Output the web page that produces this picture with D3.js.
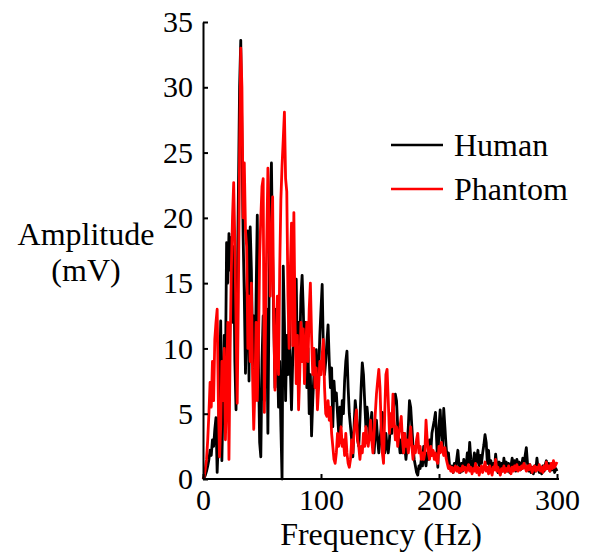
<!DOCTYPE html>
<html><head><meta charset="utf-8">
<script src="https://cdn.jsdelivr.net/npm/d3@7"></script>
<style>
body{margin:0;background:#fff;}
text{font-family:"Liberation Serif","Times New Roman",serif;fill:#000;}
</style></head>
<body><svg id="c" width="590" height="555"></svg>
<script>
// Frequency axis values (Hz), 1 Hz resolution
const frequency = d3.range(0, 301, 1);
const human = [
0,0.1,0.3,0.6,1.0,1.5,2.2,1.8,3.0,2.5,
3.8,4.7,0.5,3.0,7.5,12.1,1.4,6.0,11.0,8.0,
18.1,15.0,18.8,16.0,18.5,12.0,17.8,9.0,5.3,14.0,
22.0,30.0,33.6,26.0,18.6,14.0,8.1,12.0,19.0,7.5,
19.3,16.0,10.0,12.5,6.0,14.0,20.2,9.0,2.8,1.7,
9.0,12.5,6.0,10.0,13.0,3.5,14.0,21.0,24.2,17.0,
12.0,7.0,13.0,10.0,5.5,9.0,4.0,0,16.3,12.0,
6.0,11.0,8.0,12.5,8.5,5.3,9.0,11.0,13.0,15.3,
9.0,12.0,10.0,14.0,15.6,13.0,9.0,12.0,7.0,10.0,
5.0,8.0,3.3,6.0,8.0,7.0,9.9,6.5,8.0,11.0,
13.0,14.9,10.0,8.0,9.0,10.5,11.8,9.0,7.0,8.5,
4.0,7.5,6.0,6.6,5.0,3.5,5.5,4.0,6.0,5.0,
7.5,9.0,9.8,7.0,5.0,4.0,3.0,1.7,4.0,6.0,
5.0,3.0,2.5,4.5,7.0,8.9,8.0,6.0,4.0,5.5,
4.5,3.0,4.0,5.1,3.0,2.0,3.5,4.5,3.0,2.0,
3.0,4.0,5.1,3.0,2.0,3.5,2.5,2.0,3.0,4.5,
3.5,5.0,6.0,6.5,6.0,4.0,3.0,2.0,3.0,2.0,
3.5,2.5,1.5,2.5,4.0,6.0,5.5,4.0,2.5,1.5,
1.0,0.5,0.3,1.0,0.8,1.5,1.0,2.5,1.5,1.0,
2.0,1.5,3.0,2.0,3.5,4.0,4.5,5.1,3.0,0.9,
4.0,5.3,3.5,2.5,5.4,4.0,2.5,1.5,2.0,1.0,
0.8,1.0,0.5,1.2,0.8,1.5,2.2,1.0,0.5,1.2,
0.6,1.5,0.8,1.0,2.0,1.2,2.8,1.5,0.6,1.2,
2.0,1.0,1.6,2.2,1.0,1.8,1.2,2.0,2.6,3.4,
2.8,1.2,2.2,0.8,1.4,0.6,1.2,0.8,1.9,1.0,
0.5,1.3,0.7,1.2,0.6,1.6,0.8,1.3,0.6,1.2,
0.5,1.0,1.6,0.8,1.4,0.6,1.5,0.8,1.3,0.7,
1.0,1.6,0.9,1.8,2.4,1.2,0.6,1.1,0.5,0.9,
0.4,1.0,0.6,1.6,0.8,0.5,0.9,0.4,1.0,0.6,
1.1,1.4,0.8,1.2,0.6,1.0,0.7,1.1,0.5,0.8,
0.6];
const phantom = [
0,0.2,0.8,1.5,3.0,5.0,7.4,5.5,9.0,6.0,
10.7,12.0,13.0,6.0,1.7,4.0,9.0,6.0,10.0,3.0,
7.0,12.0,1.5,10.0,16.0,20.0,22.7,18.0,12.0,5.8,
14.0,25.0,33.0,30.0,20.0,24.2,19.0,17.8,10.0,14.0,
9.0,15.0,8.0,3.8,7.0,12.0,6.0,10.0,17.0,20.0,
22.4,23.0,5.1,12.0,18.0,23.8,20.0,14.0,18.0,21.6,
12.0,6.8,10.0,14.0,8.0,16.0,21.4,24.0,26.0,28.1,
23.0,22.0,14.0,10.0,16.0,19.6,10.2,20.4,12.0,7.3,
11.0,5.3,8.0,12.0,9.0,11.5,7.3,10.0,12.0,9.0,
13.0,15.0,11.0,8.0,10.0,7.0,8.5,5.3,7.0,9.0,
8.0,9.5,10.7,7.0,5.0,4.8,6.0,4.5,5.5,3.5,
2.5,1.5,1.2,2.0,3.5,2.5,3.0,4.0,2.5,3.0,
1.8,3.5,2.0,1.2,0.9,1.5,3.0,2.0,3.5,4.5,
5.3,3.0,2.5,1.5,2.5,2.0,3.5,2.5,4.0,3.0,
2.5,3.3,4.5,3.0,2.0,3.5,5.0,6.5,7.5,8.4,
7.0,4.0,2.0,1.2,5.0,8.0,8.4,6.0,3.5,5.0,
4.0,6.5,4.5,3.0,4.0,2.5,3.5,4.0,4.8,3.0,
2.0,3.5,2.5,3.0,2.0,3.0,4.0,2.5,1.5,2.5,
2.0,3.0,3.5,2.0,2.5,1.5,2.0,1.5,2.0,4.5,
3.0,2.0,1.5,2.5,1.8,2.2,1.5,2.0,1.4,1.2,
2.5,2.0,2.8,2.2,1.8,2.4,1.6,1.2,0.8,1.0,
0.6,0.9,0.5,0.8,1.0,0.6,0.9,0.5,0.8,0.6,
1.0,0.7,0.9,0.5,0.8,1.1,0.6,0.9,0.4,0.8,
0.6,1.2,0.5,0.9,0.3,0.7,1.0,0.5,0.8,1.3,
0.6,0.9,0.4,1.0,0.6,0.3,0.9,0.7,1.5,0.6,
0.9,0.5,0.3,0.8,0.6,1.0,0.5,0.8,0.6,1.0,
0.7,0.4,0.9,0.6,1.0,0.7,1.1,0.6,0.9,0.7,
1.0,0.8,1.2,0.9,0.6,1.0,0.7,1.1,0.8,0.5,
0.9,1.0,0.6,0.9,0.7,1.1,0.6,0.9,0.5,1.0,
0.7,1.3,0.8,1.0,0.6,1.2,0.8,1.4,0.9,1.1,
1.3];
const xTicks = [0, 100, 200, 300];
const yTicks = [0, 5, 10, 15, 20, 25, 30, 35];
const seriesNames = ["Human", "Phantom"];
const seriesColors = ["#000000", "#ff0000"];

const svg = d3.select("#c");
const x = d3.scaleLinear().domain([0, 300]).range([203, 557]);
const y = d3.scaleLinear().domain([0, 35]).range([479, 22]);

const line = d3.line().x((d, i) => x(frequency[i])).y(d => y(d));

[human, phantom].forEach((s, k) => {
  svg.append("path").datum(s).attr("d", line)
    .attr("fill", "none").attr("stroke", seriesColors[k])
    .attr("stroke-width", 2.8).attr("stroke-linejoin", "round");
});

const xAxis = svg.append("g").attr("transform", "translate(0,479)")
  .call(d3.axisBottom(x).tickValues(xTicks).tickSizeInner(-5).tickSizeOuter(0).tickPadding(10));
const yAxis = svg.append("g").attr("transform", "translate(203,0)")
  .call(d3.axisLeft(y).tickValues(yTicks).tickSizeInner(-5).tickSizeOuter(0).tickPadding(10));
[xAxis, yAxis].forEach(g => {
  g.select(".domain").attr("stroke", "#000").attr("stroke-width", 2);
  g.selectAll(".tick line").attr("stroke", "#000").attr("stroke-width", 2);
  g.selectAll("text").attr("font-family", "Liberation Serif, serif").attr("font-size", 30).attr("fill", "#000");
});
xAxis.select(".domain").attr("d", "M203,0H559");

svg.append("text").attr("x", 381).attr("y", 545).attr("text-anchor", "middle")
  .attr("font-size", 32).text("Frequency (Hz)");
svg.append("text").attr("x", 86).attr("y", 245).attr("text-anchor", "middle")
  .attr("font-size", 32).text("Amplitude");
svg.append("text").attr("x", 86).attr("y", 281).attr("text-anchor", "middle")
  .attr("font-size", 32).text("(mV)");

seriesNames.forEach((n, k) => {
  const yy = 145 + k * 44;
  svg.append("line").attr("x1", 391).attr("x2", 443).attr("y1", yy).attr("y2", yy)
    .attr("stroke", seriesColors[k]).attr("stroke-width", 2.6);
  svg.append("text").attr("x", 454).attr("y", yy + 11).attr("font-size", 32).text(n);
});
</script></body></html>
